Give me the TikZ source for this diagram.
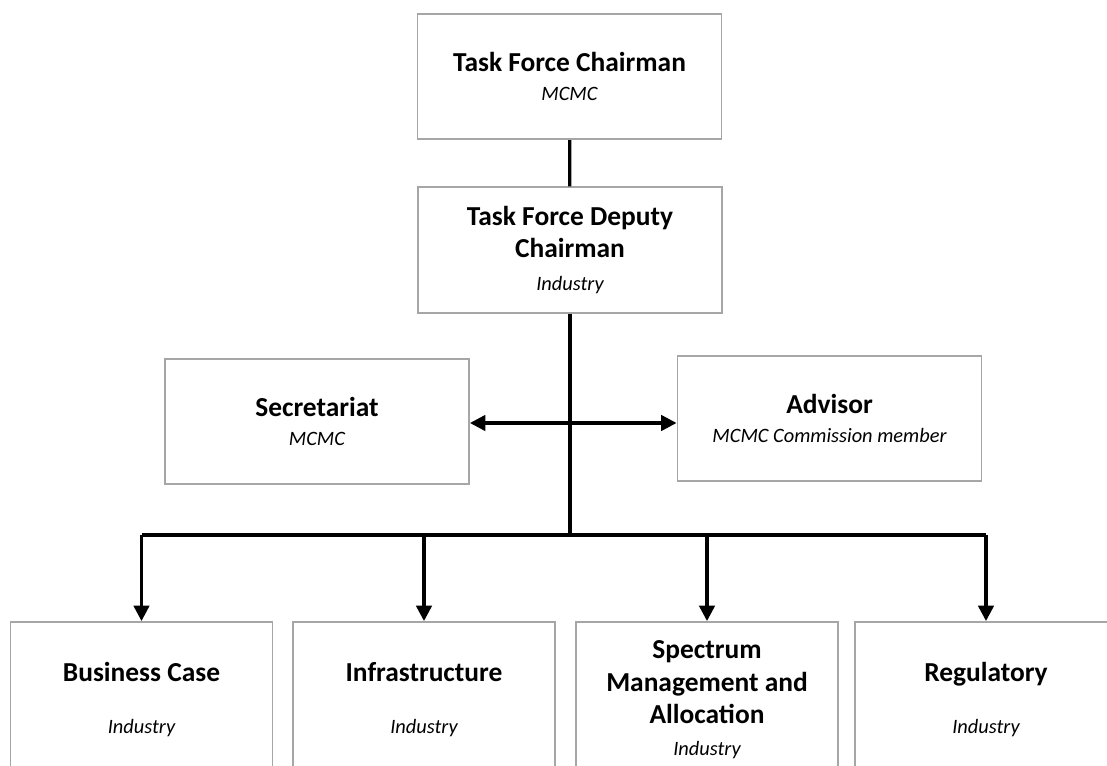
\documentclass[tikz,border=0pt]{standalone}
\usepackage{fontspec}
\setmainfont{Carlito}
\usepackage{tikz}
\usetikzlibrary{arrows.meta}

\definecolor{boxgray}{HTML}{A6A6A6}
\newcommand{\headfont}{\fontsize{19.5}{23}\selectfont\bfseries}
\newcommand{\rolefont}{\fontsize{14.5}{23}\selectfont\mdseries\itshape}

\tikzset{
  unit/.style={draw=boxgray, line width=1.3pt, align=center, inner sep=0pt,
    font=\headfont, minimum width=7.6cm, minimum height=3.13cm},
  team/.style={unit, minimum width=6.55cm, minimum height=3.9cm},
  link/.style={line width=2.3pt},
  >={Triangle[length=11pt,width=11pt]}
}

\begin{document}
\begin{tikzpicture}[x=0.025cm, y=-0.025cm]
      \useasboundingbox (0, 0) rectangle (1107, 766);
      \clip (0, 0) rectangle (1107, 766);
      % top of the chart
      \node[unit] (chair) at (569.5, 76.5) {Task Force Chairman\\[-3pt] {\rolefont MCMC}};
      \node[unit] (deputy) at (570, 250) {Task Force Deputy\\ Chairman\\ {\rolefont Industry}};
      \node[unit] (secr) at (317, 421.5) {Secretariat\\[-3pt] {\rolefont MCMC}};
      \node[unit] (advisor) at (829.5, 418.5) {Advisor\\[-3pt] {\rolefont MCMC Commission member}};
      % working groups
      \node[team] (business) at (141.5, 700) {Business Case\\[14pt] {\rolefont Industry}};
      \node[team] (infra) at (424, 700) {Infrastructure\\[14pt] {\rolefont Industry}};
      \node[team] (spectrum) at (707, 700) {Spectrum\\ Management and\\ Allocation\\ {\rolefont Industry}};
      \node[team] (regul) at (986, 700) {Regulatory\\[14pt] {\rolefont Industry}};
      \coordinate (bus) at (570, 535);
      % connectors
      \draw[link] (chair) -- (deputy);
      \draw[link] (deputy) -- ([yshift=-1pt]bus);
      \draw[link, <->] (secr.east |- 0, 423) -- (advisor.west |- 0, 423);
      \draw[link] (business.north |- bus) -- (regul.north |- bus);
      \foreach \g in {business, infra, spectrum, regul}
        \draw[link, ->] (\g.north |- bus) -- (\g.north);
    \end{tikzpicture}
\end{document}
